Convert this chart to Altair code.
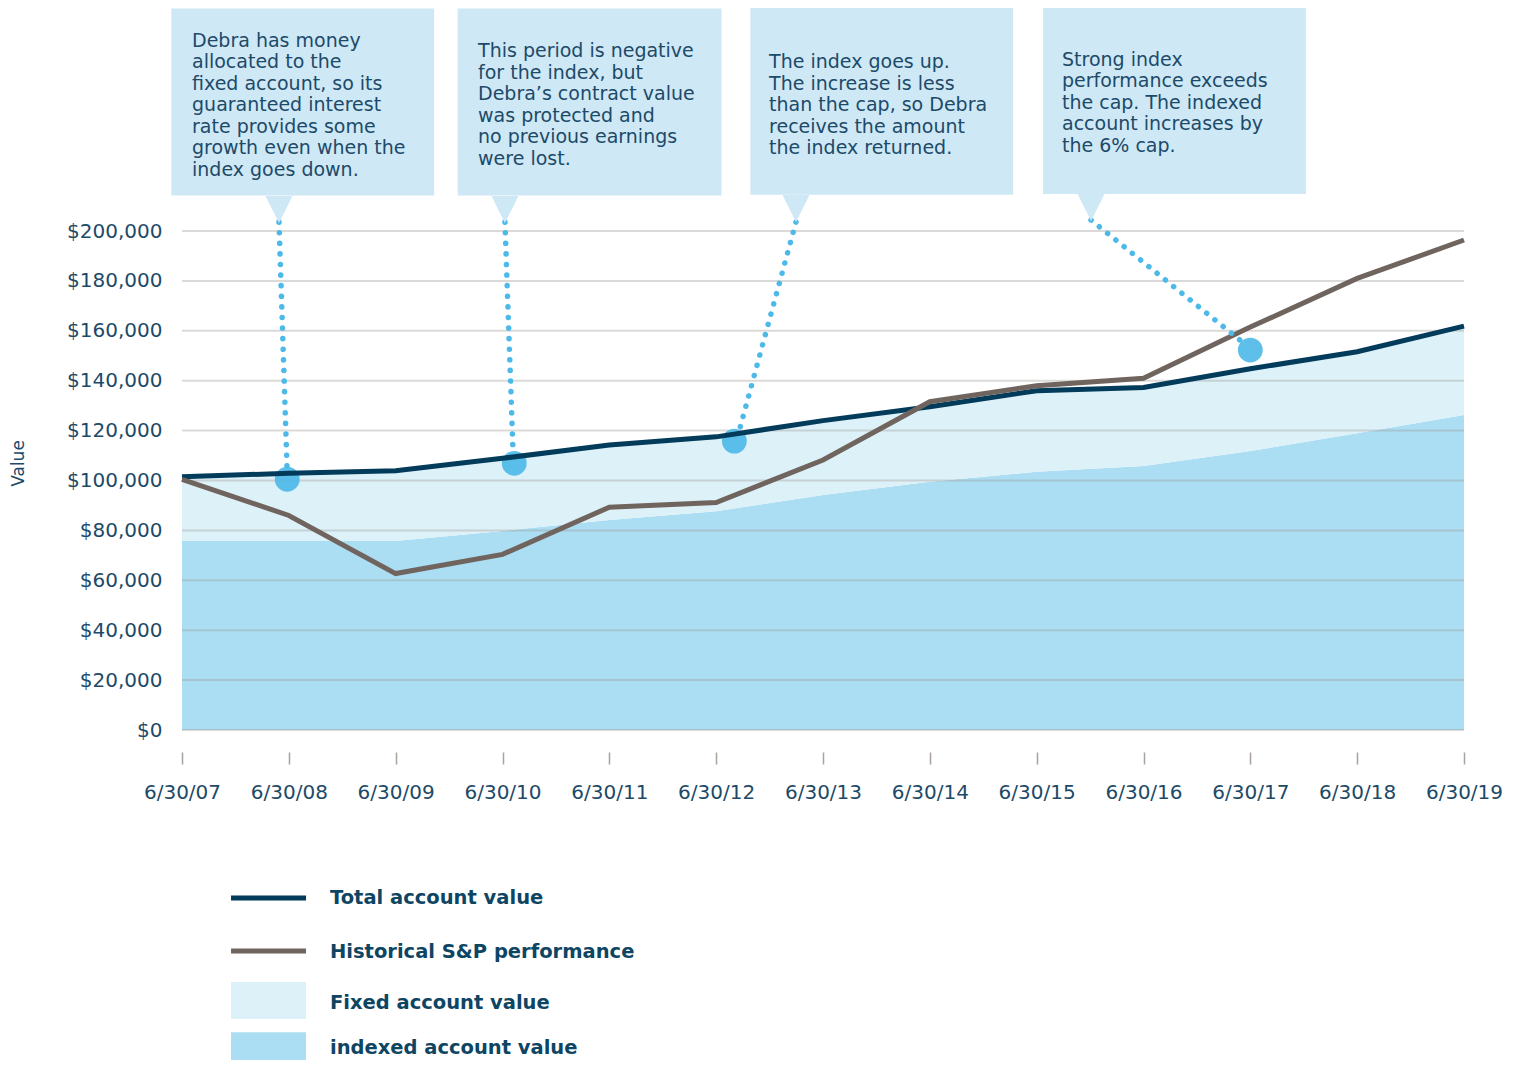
import altair as alt
import pandas as pd

# ---------------- data ----------------
years = list(range(2007, 2020))
x_labels = ["6/30/07", "6/30/08", "6/30/09", "6/30/10", "6/30/11", "6/30/12", "6/30/13",
            "6/30/14", "6/30/15", "6/30/16", "6/30/17", "6/30/18", "6/30/19"]
total_value = [101500, 102900, 103900, 108900, 114200, 117500, 124000,
               129600, 136000, 137300, 144800, 151600, 161900]
sp_value = [100500, 86000, 62700, 70400, 89300, 91200, 108200,
            131600, 138000, 141000, 161500, 181000, 196400]
indexed_value = [75800, 75800, 75800, 79800, 84200, 87700, 94200,
                 99500, 103500, 105800, 111800, 118900, 126300]
fixed_value = [25700, 27100, 28100, 29100, 30000, 29800, 29800,
               30100, 32500, 31500, 33000, 32700, 35600]
y_ticks = [0, 20000, 40000, 60000, 80000, 100000, 120000, 140000, 160000, 180000, 200000]

series_names = ["Total account value", "Historical S&P performance",
                "Fixed account value", "indexed account value"]
series_colors = ["#033B5B", "#70655E", "#DDF1F9", "#ABDEF3"]

# annotation markers (data coordinates)
marker_x = [2007.985, 2010.11, 2012.17, 2017.0]
marker_y = [100500, 106900, 115800, 152300]

callout_texts = [
    "Debra has money\nallocated to the\nfixed account, so its\nguaranteed interest\nrate provides some\ngrowth even when the\nindex goes down.",
    "This period is negative\nfor the index, but\nDebra\u2019s contract value\nwas protected and\nno previous earnings\nwere lost.",
    "The index goes up.\nThe increase is less\nthan the cap, so Debra\nreceives the amount\nthe index returned.",
    "Strong index\nperformance exceeds\nthe cap. The indexed\naccount increases by\nthe 6% cap.",
]

# ---------------- tables ----------------
YMAX = 289400
X0, X1 = 2007, 2019
TEXT_COLOR = "#1D4A68"
FONT = "DejaVu Sans"

lines_df = pd.DataFrame({
    "x": years * 2,
    "y": total_value + sp_value,
    "series": [series_names[0]] * 13 + [series_names[1]] * 13,
})

areas_df = pd.DataFrame({
    "x": years * 2,
    "y": indexed_value + fixed_value,
    "series": [series_names[3]] * 13 + [series_names[2]] * 13,
    "ord": [0] * 13 + [1] * 13,
})

grid_df = pd.DataFrame({"y": y_ticks})

markers_df = pd.DataFrame({"x": marker_x, "y": marker_y})

callouts_df = pd.DataFrame({
    "x": [2006.90, 2009.58, 2012.32, 2015.06],
    "x2": [2009.36, 2012.05, 2014.78, 2017.52],
    "y": [289200, 289200, 289500, 289800],
    "y2": [214200, 214200, 214500, 214800],
    "tx": [2007.094, 2009.771, 2012.495, 2015.237],
    "ty": [273800, 269600, 265200, 266300],
    "tipx": [2007.908, 2010.023, 2012.747, 2015.509],
    "tipy": [208600, 208600, 209000, 209400],
    "text": callout_texts,
})

leaders_df = pd.DataFrame({
    "x": [2007.908, 2010.023, 2012.747, 2015.509],
    "y": [203600, 203600, 203600, 204400],
    "x2": [2007.983, 2010.098, 2012.223, 2016.903],
    "y2": [105400, 112200, 121100, 156300],
})

legend_lines_df = pd.DataFrame({
    "series": series_names[:2],
    "x": [2007.459, 2007.459], "x2": [2008.161, 2008.161],
    "y": [-67300, -88600],
})
legend_rects_df = pd.DataFrame({
    "series": series_names[2:],
    "x": [2007.459, 2007.459], "x2": [2008.161, 2008.161],
    "y": [-101000, -121200], "y2": [-115800, -132400],
})
legend_text_df = pd.DataFrame({
    "series": series_names,
    "x": [2008.385] * 4,
    "y": [-67300, -89000, -109400, -127600],
})

# ---------------- scales & axes ----------------
xs = alt.Scale(domain=[X0, X1], nice=False, zero=False)
ys = alt.Scale(domain=[0, YMAX], nice=False, zero=False)
cs = alt.Scale(domain=series_names, range=series_colors)

x_axis = alt.Axis(
    values=years,
    labelExpr="%s[datum.value - 2007]" % str(x_labels).replace("'", '"'),
    offset=22, tickSize=12, tickColor="#A9A29C", tickWidth=1.5,
    domain=False, grid=False, labelPadding=18, labelFontSize=20,
    labelOverlap=False, labelFlush=False, labelAlign="center",
    labelColor=TEXT_COLOR, labelFont=FONT, title=None,
)
y_axis = alt.Axis(
    values=y_ticks, format="$,d", labelFontSize=20, labelColor=TEXT_COLOR, labelFont=FONT,
    ticks=False, tickSize=0, domain=False, grid=False, labelPadding=20,
    labelOverlap=False, labelFlush=False,
    title="Value", titleFontSize=17, titleFontWeight="normal", titleColor=TEXT_COLOR,
    titleFont=FONT, titleAngle=270, titleX=-164, titleY=455, titleAlign="center",
    titleBaseline="middle",
)


def X(field):
    return alt.X(field, type="quantitative", scale=xs, axis=x_axis)


def Y(field, **kw):
    return alt.Y(field, type="quantitative", scale=ys, axis=y_axis, **kw)


# ---------------- layers ----------------
areas = alt.Chart(areas_df).mark_area(opacity=1).encode(
    x=X("x"),
    y=Y("y", stack="zero"),
    color=alt.Color("series:N", scale=cs, legend=None),
    order=alt.Order("ord:Q"),
)

grid = alt.Chart(grid_df).mark_rule(color="#9A948E", opacity=0.35, strokeWidth=2).encode(
    y=Y("y"),
)

markers = alt.Chart(markers_df).mark_circle(size=616, color="#4BB8E8", opacity=0.9).encode(
    x=X("x"), y=Y("y"),
)

lines = alt.Chart(lines_df).mark_line(strokeWidth=5).encode(
    x=X("x"), y=Y("y"),
    color=alt.Color("series:N", scale=cs, legend=None),
    detail="series:N",
)

leaders = alt.Chart(leaders_df).mark_rule(
    color="#4DB9E8", strokeWidth=5.5, strokeCap="round", strokeDash=[0.1, 10.5]
).encode(
    x=X("x"), y=Y("y"), x2="x2:Q", y2="y2:Q",
)

boxes = alt.Chart(callouts_df).mark_rect(color="#CEE8F6").encode(
    x=X("x"), x2="x2:Q", y=Y("y"), y2="y2:Q",
)

tips = alt.Chart(callouts_df).mark_point(
    shape="M-1,-1L1,-1L0,1Z", size=729, filled=True, color="#CEE8F6", opacity=1
).encode(
    x=X("tipx"), y=Y("tipy"),
)

texts = alt.Chart(callouts_df).mark_text(
    align="left", baseline="alphabetic", lineBreak="\n", lineHeight=21.5,
    fontSize=19, font=FONT, color=TEXT_COLOR,
).encode(
    x=X("tx"), y=Y("ty"), text="text:N",
)

leg_lines = alt.Chart(legend_lines_df).mark_rule(strokeWidth=5).encode(
    x=X("x"), x2="x2:Q", y=Y("y"),
    color=alt.Color("series:N", scale=cs, legend=None),
)
leg_rects = alt.Chart(legend_rects_df).mark_rect().encode(
    x=X("x"), x2="x2:Q", y=Y("y"), y2="y2:Q",
    color=alt.Color("series:N", scale=cs, legend=None),
)
leg_text = alt.Chart(legend_text_df).mark_text(
    align="left", baseline="middle", fontSize=19.5, fontWeight="bold",
    font=FONT, color="#0E4563",
).encode(
    x=X("x"), y=Y("y"), text="series:N",
)

chart = alt.layer(
    areas, grid, markers, lines, leaders, boxes, tips, texts, leg_lines, leg_rects, leg_text
).properties(
    width=1282, height=722,
    autosize=alt.AutoSizeParams(type="none"),
    padding={"left": 174, "top": 0, "right": 40, "bottom": 330},
    background="white",
).configure(font=FONT).configure_view(stroke=None, clip=False)

chart.save("out.html", embed_options={"renderer": "svg", "actions": False})
